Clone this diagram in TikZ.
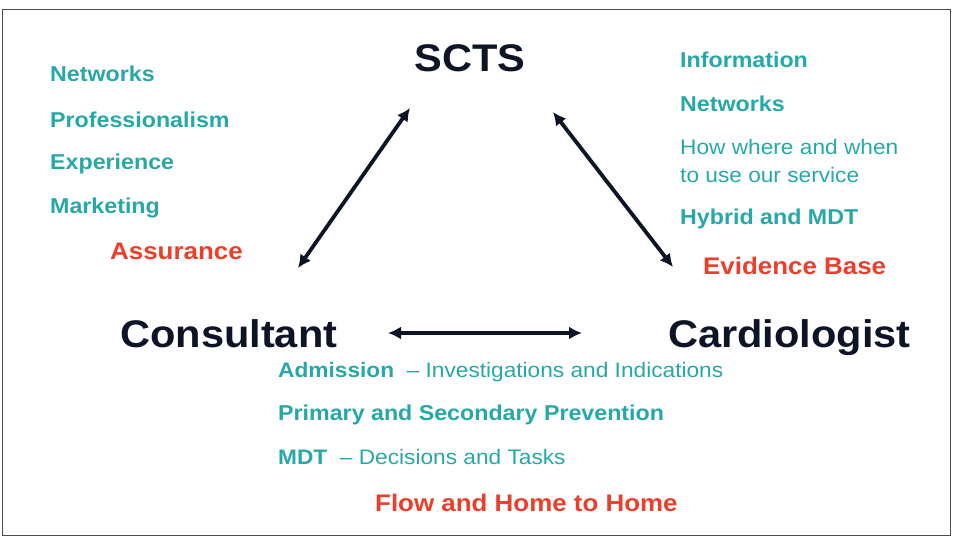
\documentclass[tikz,border=0pt]{standalone}
\usepackage{fontspec}
\setmainfont[FakeStretch=1.08]{Liberation Sans}
\usepackage{xcolor}
\usepackage{tikz}
\usetikzlibrary{arrows.meta,positioning}

\definecolor{navyc}{RGB}{12,20,38}
\definecolor{tealc}{RGB}{38,168,168}
\definecolor{redc}{RGB}{236,62,42}

\begin{document}
\begin{tikzpicture}[x=1bp,y=-1bp,
  big/.style={anchor=base west,inner sep=0pt,text=navyc,font=\fontsize{38.5bp}{40bp}\selectfont\bfseries},
  item/.style={anchor=base west,inner sep=0pt,text=tealc,font=\fontsize{21.5bp}{24bp}\selectfont\bfseries},
  itemlight/.style={item,font=\fontsize{21bp}{24bp}\selectfont},
  key/.style={anchor=base west,inner sep=0pt,text=redc,font=\fontsize{24bp}{26bp}\selectfont\bfseries},
  link/.style={line width=3.8bp,draw=navyc,{Latex[length=13bp,width=13bp]}-{Latex[length=13bp,width=13bp]}}]
\useasboundingbox (0,0) rectangle (954,539);
% Frame
\draw[line width=1.2bp,gray!60!black] (2.5,9.5) rectangle (950.5,535.5);

% Parties
\node[big,anchor=base] (scts) at (470,72) {SCTS};
\node[big] (cons) at (120,348) {Consultant};
\node[big] (card) at (668,348) {Cardiologist};

% Left list
\node[item] (netL) at (50,82) {Networks};
\node[item] (prof) at (50,128) {Professionalism};
\node[item] (expe) at (50,170) {Experience};
\node[item] (mark) at (50,214) {Marketing};
\node[key] (assu) at (110,260) {Assurance};

% Right list
\node[item] (info) at (680,68) {Information};
\node[item] (netR) at (680,112) {Networks};
\node[itemlight] (howA) at (680,155) {How where and when};
\node[itemlight] (howB) at (680,183) {to use our service};
\node[item] (hybr) at (680,225) {Hybrid and MDT};
\node[key] (evid) at (703,275) {Evidence Base};

% Bottom list
\node[itemlight] (admi) at (278,378) {\textbf{Admission}\ \ – Investigations and Indications};
\node[item] (prev) at (278,420) {Primary and Secondary Prevention};
\node[itemlight] (mdt) at (278,464) {\textbf{MDT}\ \ – Decisions and Tasks};
\node[key] (flow) at (375,511) {Flow and Home to Home};

% Arrows
\coordinate (sctsL) at (410,108);
\coordinate (sctsR) at (553,112);
\coordinate (consT) at (298,268);
\coordinate (consR) at (388,333);
\coordinate (cardT) at (673,267);
\coordinate (cardL) at (582,333);
\draw[link] (consT) -- (sctsL);
\draw[link] (sctsR) -- (cardT);
\draw[link] (consR) -- (cardL);
\end{tikzpicture}
\end{document}
